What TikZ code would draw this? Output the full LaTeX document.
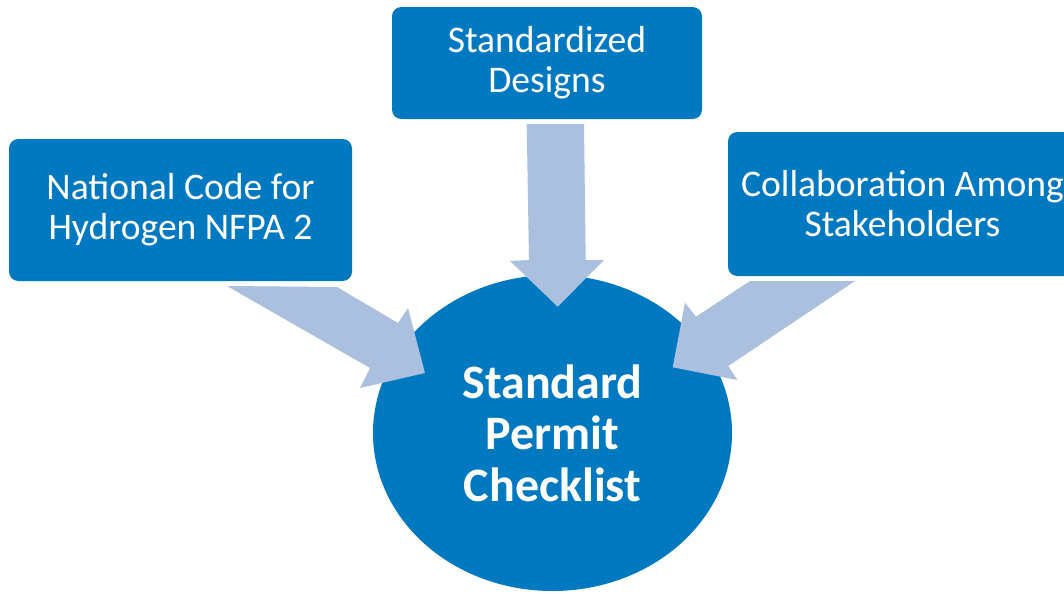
\documentclass[tikz,border=0pt]{standalone}
\usepackage{fontspec}
\setmainfont{Carlito}
\usetikzlibrary{shapes.geometric}
\definecolor{boxblue}{RGB}{0,121,193}
\definecolor{arrowblue}{RGB}{171,192,222}
\begin{document}
\begin{tikzpicture}[x=0.75pt,y=-0.75pt,
  box/.style={rectangle, rounded corners=7pt, fill=boxblue, draw=none,
    text=white, align=center, inner sep=0pt,
    font=\fontsize{28.2pt}{30pt}\selectfont},
  hub/.style={ellipse, fill=boxblue, draw=none, text=white, align=center,
    inner sep=0pt, minimum width=269.25pt, minimum height=237pt,
    font=\fontsize{36pt}{38.6pt}\selectfont\bfseries},
  blockarrow/.style={fill=arrowblue, draw=none}]
\useasboundingbox (0,0) rectangle (1064,593);
\fill[white] (0,0) rectangle (1064,593);
\clip (0,0) rectangle (1064,593);
% boxes
\node[box, minimum width=257.25pt, minimum height=106.5pt] (nfpa) at (180.5,210)
  {National Code for\\Hydrogen NFPA 2};
\node[box, minimum width=232.5pt, minimum height=84pt] (designs) at (547,63)
  {Standardized\\Designs};
\node[box, minimum width=261.75pt, minimum height=108pt] (collab) at (902.5,204)
  {Collaboration Among\\Stakeholders};
% hub
\node[hub] (permit) at (552.5,433) {Standard\\Permit\\Checklist};
% block arrows
\fill[blockarrow] (526.7,124) -- (584,124) -- (585.7,260) -- (604,260)
  -- (557.7,306.7) -- (510,261) -- (529,260) -- cycle;
\fill[blockarrow] (227,286) -- (337,287) -- (398,323) -- (408,308)
  -- (425,373) -- (360,388) -- (370,368) -- cycle;
\fill[blockarrow] (750,281) -- (855,281) -- (728.3,366) -- (737.3,380)
  -- (672.7,367.3) -- (685,302.7) -- (696,316.7) -- cycle;
\end{tikzpicture}
\end{document}
